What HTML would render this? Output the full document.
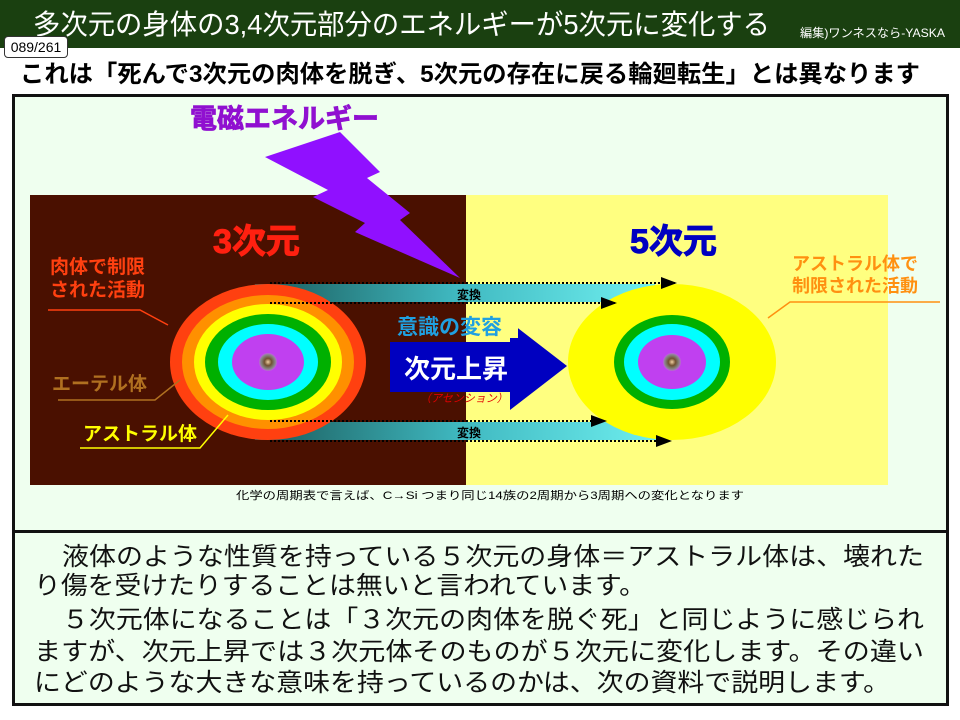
<!DOCTYPE html>
<html><head><meta charset="utf-8"><style>
*{margin:0;padding:0;box-sizing:border-box}
body{width:960px;height:720px;background:#fff;position:relative;overflow:hidden;font-family:"Liberation Sans","Noto Sans CJK JP",sans-serif}
.hdr{position:absolute;left:0;top:0;width:960px;height:48px;background:#1a4010}
.pg{position:absolute;left:4px;top:36px;width:64px;height:22px;background:#fff;border:1px solid #333;border-radius:4px;font-size:14px;text-align:center;line-height:20px;z-index:2}
.box{position:absolute;left:12px;top:94px;width:937px;height:612px;background:#efffef;border:3px solid #111}
.sep{position:absolute;left:12px;top:530px;width:937px;height:3px;background:#111}
svg{position:absolute;left:0;top:0}
</style></head><body>
<div class="hdr"></div>
<div class="box"></div>
<div class="sep"></div>
<svg width="960" height="720" font-family="Liberation Sans, Noto Sans CJK JP, sans-serif">
<defs>
<linearGradient id="tg" x1="0" x2="1"><stop offset="0" stop-color="#1a5a5a"/><stop offset="0.5" stop-color="#3fb8c0"/><stop offset="1" stop-color="#70f0f0"/></linearGradient>
<radialGradient id="dot"><stop offset="0" stop-color="#f0d0a0"/><stop offset="0.4" stop-color="#705030"/><stop offset="0.8" stop-color="#888"/><stop offset="1" stop-color="#c060e0"/></radialGradient>
<marker id="ah" markerWidth="8" markerHeight="6" refX="7" refY="3" orient="auto"><path d="M0,0L8,3L0,6z" fill="#000"/></marker>
</defs>
<text x="33" y="34" font-size="28" fill="#fff" textLength="737" lengthAdjust="spacingAndGlyphs">多次元の身体の3,4次元部分のエネルギーが5次元に変化する</text>
<text x="800" y="37" font-size="12" fill="#fff" textLength="145" lengthAdjust="spacingAndGlyphs">編集)ワンネスなら-YASKA</text>
<text x="20" y="82" font-size="24" font-weight="bold" fill="#000" textLength="900" lengthAdjust="spacingAndGlyphs">これは「死んで3次元の肉体を脱ぎ、5次元の存在に戻る輪廻転生」とは異なります</text>
<rect x="30" y="195" width="436" height="290" fill="#4a1000"/>
<rect x="466" y="195" width="422" height="290" fill="#ffff80"/>
<text x="190" y="128" font-size="27" font-weight="bold" fill="#9010d0" stroke="#9010d0" stroke-width="0.8">電磁エネルギー</text>
<polygon points="265,157 340,132 380,172 367,178 410,213 400,220 460,278 355,232 365,223 313,197 328,190" fill="#9010ff"/>
<text x="213" y="253" font-size="34" font-weight="bold" fill="#ff2010" stroke="#ff2010" stroke-width="1">3次元</text>
<text x="630" y="253" font-size="34" font-weight="bold" fill="#0000c0" stroke="#0000c0" stroke-width="1">5次元</text>
<rect x="255" y="284" width="400" height="18" fill="url(#tg)"/>
<rect x="255" y="422" width="410" height="18" fill="url(#tg)"/>
<ellipse cx="268" cy="362" rx="98" ry="78" fill="#ff4010"/>
<ellipse cx="268" cy="362" rx="86" ry="67" fill="#ff9000"/>
<ellipse cx="268" cy="362" rx="74" ry="58" fill="#ffff00"/>
<ellipse cx="268" cy="362" rx="63" ry="48" fill="#00b000"/>
<ellipse cx="268" cy="362" rx="50" ry="38" fill="#00ffff"/>
<ellipse cx="268" cy="362" rx="36" ry="28" fill="#c040f0"/>
<circle cx="268" cy="362" r="9" fill="url(#dot)"/>
<ellipse cx="672" cy="362" rx="104" ry="78" fill="#ffff00"/>
<ellipse cx="672" cy="362" rx="58" ry="47" fill="#00b000"/>
<ellipse cx="672" cy="362" rx="48" ry="38" fill="#00ffff"/>
<ellipse cx="672" cy="362" rx="34" ry="27" fill="#c040f0"/>
<circle cx="672" cy="362" r="9" fill="url(#dot)"/>
<g stroke="#000" stroke-width="2" stroke-dasharray="2,2" fill="none" marker-end="url(#ah)">
<line x1="270" y1="283" x2="675" y2="283"/>
<line x1="270" y1="303" x2="615" y2="303"/>
<line x1="270" y1="421" x2="605" y2="421"/>
<line x1="270" y1="441" x2="670" y2="441"/>
</g>
<text x="457" y="299" font-size="12" font-weight="bold" fill="#000">変換</text>
<text x="457" y="437" font-size="12" font-weight="bold" fill="#000">変換</text>
<polygon points="390,342 510,342 510,322 567,366 510,410 510,392 390,392" fill="#0000c0"/>
<rect x="466" y="314" width="52" height="24" fill="#ffff80"/>
<text x="397" y="334" font-size="21" font-weight="bold" fill="#20a0e0">意識の変容</text>
<text x="404" y="378" font-size="26" font-weight="bold" fill="#fff">次元上昇</text>
<text x="420" y="402" font-size="11" font-style="italic" fill="#e00000">（アセンション）</text>
<text x="50" y="273" font-size="19" font-weight="bold" fill="#ff4010">肉体で制限</text>
<text x="50" y="296" font-size="19" font-weight="bold" fill="#ff4010">された活動</text>
<polyline points="48,310 140,310 168,325" fill="none" stroke="#ff4010" stroke-width="1.5"/>
<text x="52" y="390" font-size="19" font-weight="bold" fill="#b07020">エーテル体</text>
<polyline points="58,400 155,400 180,380" fill="none" stroke="#b07020" stroke-width="1.5"/>
<text x="83" y="440" font-size="19" font-weight="bold" fill="#ffff00">アストラル体</text>
<polyline points="80,448 200,448 228,415" fill="none" stroke="#ffff00" stroke-width="1.5"/>
<text x="792" y="270" font-size="18" font-weight="bold" fill="#ff9010">アストラル体で</text>
<text x="792" y="292" font-size="18" font-weight="bold" fill="#ff9010">制限された活動</text>
<polyline points="940,302 790,302 768,318" fill="none" stroke="#ff9010" stroke-width="1.5"/>
<text x="236" y="499" font-size="11" fill="#000" textLength="508" lengthAdjust="spacingAndGlyphs">化学の周期表で言えば、C→Si つまり同じ14族の2周期から3周期への変化となります</text>
<g font-size="25" fill="#111" lengthAdjust="spacingAndGlyphs">
<text x="62" y="565" textLength="862" lengthAdjust="spacingAndGlyphs">液体のような性質を持っている５次元の身体＝アストラル体は、壊れた</text>
<text x="34" y="594" textLength="612" lengthAdjust="spacingAndGlyphs">り傷を受けたりすることは無いと言われています。</text>
<text x="62" y="628" textLength="862" lengthAdjust="spacingAndGlyphs">５次元体になることは「３次元の肉体を脱ぐ死」と同じように感じられ</text>
<text x="34" y="660" textLength="890" lengthAdjust="spacingAndGlyphs">ますが、次元上昇では３次元体そのものが５次元に変化します。その違い</text>
<text x="34" y="691" textLength="856" lengthAdjust="spacingAndGlyphs">にどのような大きな意味を持っているのかは、次の資料で説明します。</text>
</g>
</svg>
<div class="pg">089/261</div>
</body></html>
